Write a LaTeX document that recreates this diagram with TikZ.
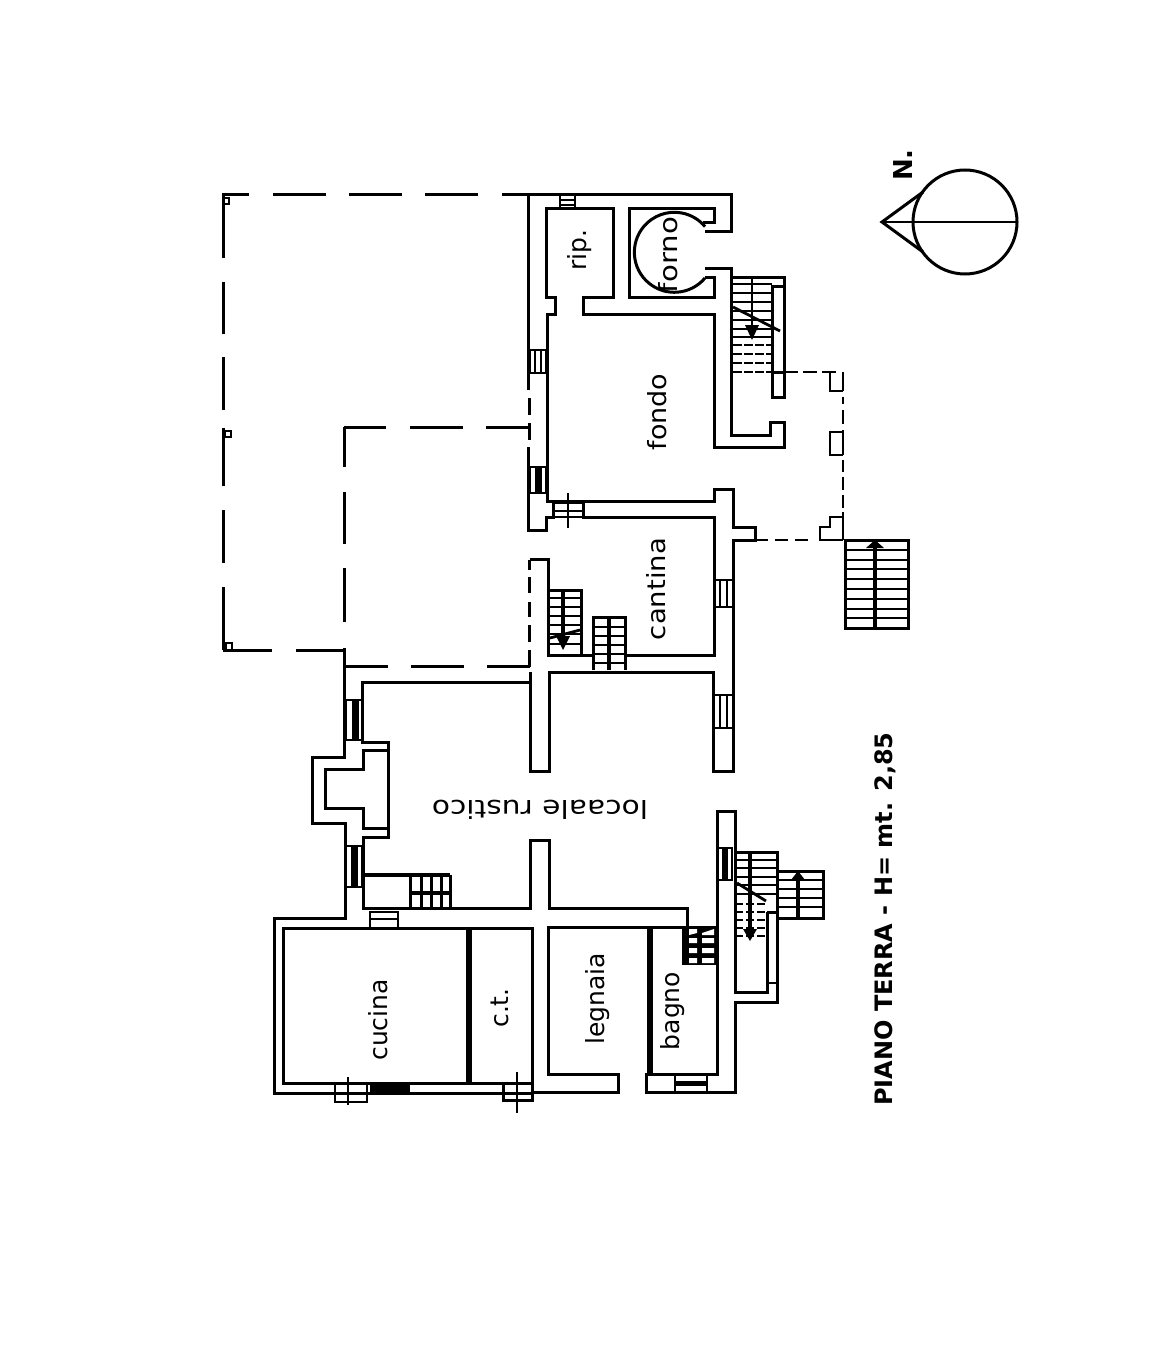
\documentclass[tikz,border=0pt]{standalone}
\usepackage{fontspec}
\setmainfont{DejaVu Sans}
\tikzset{
  wall/.style={line width=3pt,line join=miter},
  thin wall/.style={line width=2.6pt},
  heavy wall/.style={line width=6pt},
  tread/.style={line width=2.8pt},
  room/.style={font=\fontsize{25}{25}\selectfont,inner sep=0pt,rotate=90},
}
\begin{document}
\begin{tikzpicture}[x=1pt,y=-1pt]
\useasboundingbox (0,0) rectangle (1148,1356);
% long dashes of the old building
\foreach \a/\b in {222/249,273/326,349/402,425/478,502/528}
  \draw[wall] (\a,195) -- (\b,195);
\foreach \a/\b in {195/258,282/334,357/410,428/486,510/563,587/650}
  \draw[wall] (223,\a) -- (223,\b);
\foreach \a/\b in {344/386,410/463,486/530}
  \draw[wall] (\a,427) -- (\b,427);
\foreach \a/\b in {427/467,492/544,568/622}
  \draw[wall] (344,\a) -- (344,\b);
\foreach \a/\b in {345/388,411/464,487/530}
  \draw[wall] (\a,666) -- (\b,666);
\foreach \a/\b in {223/272,296/344}
  \draw[wall] (\a,650) -- (\b,650);
\foreach \a/\b in {398/415,423/440,560/570,577/593,602/617,625/642,650/667}
  \draw[wall] (529,\a) -- (529,\b);
\draw[thin wall] (223,198) rectangle (229,204);
\draw[thin wall] (225,431) rectangle (231,437);
\draw[thin wall] (226,643) rectangle (232,650);
% main outline of the ground floor
\draw[wall] (528,195) -- (731,195) -- (731,232) -- (705,232);
\draw[wall] (705,268) -- (731,268) -- (731,435) -- (770,435) -- (770,422) -- (784,422)
  -- (784,447) -- (714,447) -- (714,314) -- (583,314) -- (583,297) -- (613,297)
  -- (613,209) -- (546,209) -- (546,297) -- (555,297) -- (555,314) -- (547,314)
  -- (547,501) -- (714,501) -- (714,489) -- (733,489) -- (733,527) -- (755,527)
  -- (755,540) -- (733,540) -- (733,771) -- (713,771) -- (713,672) -- (549,672)
  -- (549,771) -- (530,771) -- (530,682) -- (362,682) -- (362,742) -- (388,742)
  -- (388,837) -- (363,837) -- (363,908) -- (530,908) -- (530,840) -- (549,840)
  -- (549,908) -- (687,908) -- (687,927) -- (548,927) -- (548,1074) -- (618,1074)
  -- (618,1092) -- (532,1092);
\draw[wall] (528,195) -- (528,390);
\draw[wall] (528,447) -- (528,530) -- (546,530) -- (546,517) -- (553,517) -- (553,503);
\draw[wall] (583,501) -- (583,517) -- (714,517) -- (714,655) -- (625,655);
\draw[wall] (593,655) -- (548,655) -- (548,559) -- (530,559);
\draw[wall] (344,648) -- (344,757) -- (312,757) -- (312,823) -- (345,823) -- (345,918)
  -- (274,918) -- (274,1093) -- (532,1093);
\draw[wall] (388,750) -- (363,750) -- (363,769) -- (325,769) -- (325,808) -- (363,808)
  -- (363,828) -- (388,828);
\draw[wall] (530,672) -- (530,771);
\draw[wall] (283,928) rectangle (532,1083);
\draw[wall] (532,1083) -- (532,1100) -- (503,1100) -- (503,1083);
\draw[heavy wall] (469,928) -- (469,1083);
% bagno and the wing on the right
\draw[heavy wall] (650,927) -- (650,1074);
\draw[wall] (687,927) -- (717,927) -- (717,1074) -- (646,1074) -- (646,1092) -- (735,1092)
  -- (735,1002) -- (777,1002) -- (777,852) -- (735,852);
\draw[wall] (717,927) -- (717,811) -- (735,811) -- (735,992) -- (767,992) -- (767,912);
\draw[wall] (767,912) -- (777,912);
\draw[thin wall] (767,983) -- (777,983);
% forno
\draw[wall] (705,278) arc [start angle=40,end angle=320,radius=40];
\draw[wall] (703,223) -- (714,223) -- (714,209) -- (629,209) -- (629,297) -- (714,297)
  -- (714,277) -- (705,277);
% windows and doors
\draw[thin wall] (560,195) rectangle (575,209) (560,200) -- (575,200) (560,205) -- (575,205);
\draw[thin wall] (530,350) rectangle (546,373) (535,350) -- (535,373) (541,350) -- (541,373);
\draw[thin wall] (530,467) rectangle (546,493);
\draw[line width=7pt] (538.5,467) -- (538.5,493);
\draw[thin wall] (553,503) -- (583,503) (553,511) -- (583,511) (553,517) -- (583,517);
\draw[thin wall] (568,493) -- (568,528);
\draw[thin wall] (714,580) rectangle (733,607) (720,580) -- (720,607) (727,580) -- (727,607);
\draw[thin wall] (714,695) rectangle (733,728) (720,695) -- (720,728) (727,695) -- (727,728);
\draw[thin wall] (346,700) rectangle (362,740);
\draw[line width=7pt] (355,700) -- (355,740);
\draw[thin wall] (346,846) rectangle (362,887);
\draw[line width=7pt] (354,846) -- (354,887);
\draw[thin wall] (370,912) rectangle (398,928) (370,919) -- (398,919);
\draw[thin wall] (335,1083) rectangle (367,1102) (335,1093) -- (367,1093);
\draw[thin wall] (348,1077) -- (348,1105);
\fill (370,1083) rectangle (410,1093);
\draw[thin wall] (517,1072) -- (517,1113);
\draw[thin wall] (717,848) rectangle (732,880);
\draw[line width=6pt] (725,848) -- (725,880);
\draw[thin wall] (675,1075) rectangle (707,1092);
\draw[line width=5pt] (675,1083) -- (707,1083);
% stairs fondo
\draw[wall] (733,277) -- (784,277) -- (784,397) -- (772,397) -- (772,286) -- (784,286);
\draw[wall] (772,372) -- (784,372);
\foreach \y in {284,293,302,311,320,329,337}
  \draw[tread] (733,\y) -- (772,\y);
\foreach \y in {345,354,363,372}
  \draw[tread,dash pattern=on 9pt off 2pt] (733,\y) -- (772,\y);
\draw[tread] (752,277) -- (752,334);
\draw[tread] (733,307) -- (780,331);
\fill (752,340) -- (745,325) -- (759,325) -- cycle;
% portico
\foreach \a/\b in {784/798,803/817,822/836}
  \draw[tread] (\a,372) -- (\b,372);
\foreach \a/\b in {372/391,397/404,410/424,430/455,460/472,477/490,495/508,512/540}
  \draw[tread] (843,\a) -- (843,\b);
\foreach \a/\b in {755/768,775/788,795/808}
  \draw[tread] (\a,540) -- (\b,540);
\draw[thin wall] (830,372) -- (830,391) -- (843,391);
\draw[thin wall] (843,432) -- (830,432) -- (830,455) -- (843,455);
\draw[thin wall] (843,517) -- (830,517) -- (830,527) -- (820,527) -- (820,540) -- (843,540);
% outer stairs
\draw[wall] (845,540) rectangle (908,628);
\foreach \y in {550,560,569,579,589,599,609,618}
  \draw[tread] (845,\y) -- (908,\y);
\draw[line width=4pt] (875,540) -- (875,628);
\fill (875,540) -- (866,548) -- (884,548) -- cycle;
% stairs cantina
\draw[wall] (548,590) -- (581,590) -- (581,655);
\foreach \y in {598,607,616,625,634,644}
  \draw[tread] (548,\y) -- (581,\y);
\draw[line width=3.5pt] (563,590) -- (563,645);
\draw[tread] (550,638) -- (580,630);
\fill (563,650) -- (556,636) -- (570,636) -- cycle;
\draw[wall] (593,670) -- (593,617) -- (625,617) -- (625,670);
\foreach \y in {627,636,645,654,663}
  \draw[tread] (593,\y) -- (625,\y);
\draw[line width=3.5pt] (609,617) -- (609,670);
% stairs locale
\draw[line width=4pt] (365,875) -- (450,875);
\draw[wall] (450,875) -- (450,908);
\foreach \x in {410,421,431,441}
  \draw[wall] (\x,875) -- (\x,908);
\draw[line width=4.5pt] (410,893) -- (450,893);
% stairs bagno
\fill (682,927) rectangle (717,965);
\foreach \y in {938,948,958}
  \fill[white] (689,\y) rectangle (697,\y+5) (702,\y) rectangle (714,\y+5);
\fill[white] (689,929) -- (697,929) -- (697,933) -- (689,935) -- cycle;
\fill[white] (702,933) -- (714,929) -- (714,935) -- (702,935) -- cycle;
% stairs outside
\draw[wall] (735,852) -- (735,930);
\foreach \y in {860,868,877,885,894}
  \draw[tread] (735,\y) -- (777,\y);
\foreach \y in {904,912,920,928,936}
  \draw[tread,dash pattern=on 8pt off 3pt] (735,\y) -- (767,\y);
\draw[line width=3.5pt] (750,852) -- (750,935);
\draw[tread] (737,883) -- (766,901);
\fill (750,941) -- (743,929) -- (757,929) -- cycle;
\draw[wall] (777,871) -- (823,871) -- (823,918) -- (777,918);
\foreach \y in {880,889,898,907}
  \draw[tread] (777,\y) -- (823,\y);
\draw[line width=4pt] (798,871) -- (798,918);
\fill (798,871) -- (791,880) -- (805,880) -- cycle;
% north
\draw[wall] (965,222) circle [radius=52];
\draw[line width=2.2pt] (882,222) -- (1017,222);
\draw[wall] (923,192) -- (882,222) -- (923,252);
% labels
\node[room] (ripo) at (580,250) {rip.};
\node[room] (forno) at (668,255) {\scalebox{1.17}[1]{forno}};
\node[room] (fondo) at (657,412) {\scalebox{1.08}[1]{fondo}};
\node[room] (cantina) at (656,589) {\scalebox{1.1}[1]{cantina}};
\node[room] (cucina) at (378,1020) {cucina};
\node[room] (ct) at (500,1008) {c.t.};
\node[room] (legnaia) at (598,999) {legnaia};
\node[room] (bagno) at (673,1011) {bagno};
\node[room,rotate=90] (locale) at (540,810) {\scalebox{1.19}[1]{locaale rustico}};
\node[room,font=\fontsize{24}{24}\selectfont\bfseries] (piano) at (885,919) {PIANO TERRA - H= mt. 2,85};
\node[room,font=\fontsize{26}{26}\selectfont\bfseries] (north) at (903,165) {N.};
\end{tikzpicture}
\end{document}
